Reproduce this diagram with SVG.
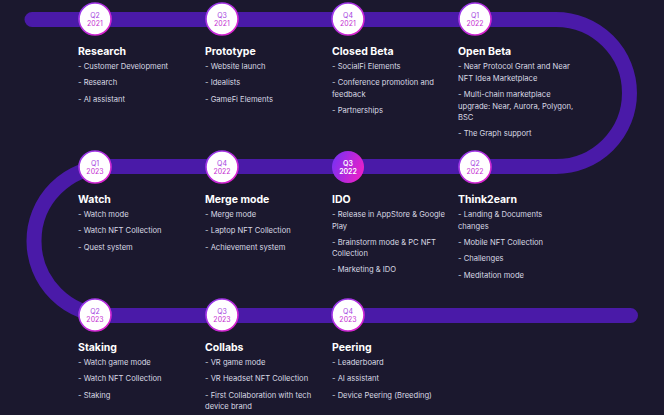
<svg xmlns="http://www.w3.org/2000/svg" width="664" height="415" viewBox="0 0 664 415">
<defs>
<linearGradient id="ring" x1="0" y1="0" x2="1" y2="1">
<stop offset="0" stop-color="#8a3cf0"/>
<stop offset="1" stop-color="#e81fc8"/>
</linearGradient>
<linearGradient id="active" x1="0" y1="0.3" x2="1" y2="0.7">
<stop offset="0" stop-color="#7b30f2"/>
<stop offset="1" stop-color="#ee1fc6"/>
</linearGradient>
<style>
.title{font-family:Inter,"Liberation Sans",sans-serif;font-weight:700;font-size:10.5px;fill:#ffffff}
.item{font-family:Inter,"Liberation Sans",sans-serif;font-size:7.6px;fill:#d9d8e4}
.dot{fill:#ffffff;stroke:url(#ring);stroke-width:1.6}
.dotA{fill:url(#active);stroke:none}
.q{font-family:Inter,"Liberation Sans",sans-serif;font-size:7px;text-anchor:middle;fill:#a33ee0}
.y{font-family:Inter,"Liberation Sans",sans-serif;font-size:7px;text-anchor:middle;fill:#c42fd2}
.qa{font-family:Inter,"Liberation Sans",sans-serif;font-size:7px;font-weight:600;text-anchor:middle;fill:#ffffff}
.track{fill:none;stroke:#4a1aa8;stroke-width:15;stroke-linecap:round}
</style>
</defs>
<rect width="664" height="415" fill="#1b182e"/>
<g id="connectors">
<path class="track" d="M32 19.5 H556 A73.5 73.5 0 0 1 556 166.5 H108.5 A74.5 74.5 0 0 0 108.5 315.5 H630.5"/>
</g>
<g id="q2-2021">
<circle class="dot" cx="95" cy="19" r="16"/>
<text class="q" x="95" y="17.5">Q2</text><text class="y" x="95" y="26">2021</text>
<text class="title" x="78" y="54.5">Research</text>
<text class="item" x="78" y="69">- Customer Development</text>
<text class="item" x="78" y="85.3">- Research</text>
<text class="item" x="78" y="101.7">- AI assistant</text>
</g>
<g id="q3-2021">
<circle class="dot" cx="222" cy="19" r="16"/>
<text class="q" x="222" y="17.5">Q3</text><text class="y" x="222" y="26">2021</text>
<text class="title" x="205" y="54.5">Prototype</text>
<text class="item" x="205" y="69">- Website launch</text>
<text class="item" x="205" y="85.3">- Idealists</text>
<text class="item" x="205" y="101.7">- GameFi Elements</text>
</g>
<g id="q4-2021">
<circle class="dot" cx="348" cy="19" r="16"/>
<text class="q" x="348" y="17.5">Q4</text><text class="y" x="348" y="26">2021</text>
<text class="title" x="332" y="54.5">Closed Beta</text>
<text class="item" x="332" y="69">- SocialFi Elements</text>
<text class="item" x="332" y="85.3">- Conference promotion and</text>
<text class="item" x="332" y="97">feedback</text>
<text class="item" x="332" y="113">- Partnerships</text>
</g>
<g id="q1-2022">
<circle class="dot" cx="475" cy="19" r="16"/>
<text class="q" x="475" y="17.5">Q1</text><text class="y" x="475" y="26">2022</text>
<text class="title" x="458" y="54.5">Open Beta</text>
<text class="item" x="458" y="69">- Near Protocol Grant and Near</text>
<text class="item" x="458" y="80.5">NFT Idea Marketplace</text>
<text class="item" x="458" y="97">- Multi-chain marketplace</text>
<text class="item" x="458" y="108.5">upgrade: Near, Aurora, Polygon,</text>
<text class="item" x="458" y="120">BSC</text>
<text class="item" x="458" y="135.5">- The Graph support</text>
</g>
<g id="q1-2023">
<circle class="dot" cx="95" cy="167" r="16"/>
<text class="q" x="95" y="165.5">Q1</text><text class="y" x="95" y="174">2023</text>
<text class="title" x="78" y="202.5">Watch</text>
<text class="item" x="78" y="217">- Watch mode</text>
<text class="item" x="78" y="233.3">- Watch NFT Collection</text>
<text class="item" x="78" y="249.7">- Quest system</text>
</g>
<g id="q4-2022">
<circle class="dot" cx="222" cy="167" r="16"/>
<text class="q" x="222" y="165.5">Q4</text><text class="y" x="222" y="174">2022</text>
<text class="title" x="205" y="202.5">Merge mode</text>
<text class="item" x="205" y="217">- Merge mode</text>
<text class="item" x="205" y="233.3">- Laptop NFT Collection</text>
<text class="item" x="205" y="249.7">- Achievement system</text>
</g>
<g id="q3-2022">
<circle class="dotA" cx="348" cy="167" r="16"/>
<text class="qa" x="348" y="165.5">Q3</text><text class="qa" x="348" y="174">2022</text>
<text class="title" x="332" y="202.5">IDO</text>
<text class="item" x="332" y="217">- Release in AppStore &amp; Google</text>
<text class="item" x="332" y="228.5">Play</text>
<text class="item" x="332" y="244.5">- Brainstorm mode &amp; PC NFT</text>
<text class="item" x="332" y="256">Collection</text>
<text class="item" x="332" y="272">- Marketing &amp; IDO</text>
</g>
<g id="q2-2022">
<circle class="dot" cx="475" cy="167" r="16"/>
<text class="q" x="475" y="165.5">Q2</text><text class="y" x="475" y="174">2022</text>
<text class="title" x="458" y="202.5">Think2earn</text>
<text class="item" x="458" y="217">- Landing &amp; Documents</text>
<text class="item" x="458" y="228.5">changes</text>
<text class="item" x="458" y="244.5">- Mobile NFT Collection</text>
<text class="item" x="458" y="261">- Challenges</text>
<text class="item" x="458" y="277.5">- Meditation mode</text>
</g>
<g id="q2-2023">
<circle class="dot" cx="95" cy="315" r="16"/>
<text class="q" x="95" y="313.5">Q2</text><text class="y" x="95" y="322">2023</text>
<text class="title" x="78" y="350.5">Staking</text>
<text class="item" x="78" y="365">- Watch game mode</text>
<text class="item" x="78" y="381.3">- Watch NFT Collection</text>
<text class="item" x="78" y="397.7">- Staking</text>
</g>
<g id="q3-2023">
<circle class="dot" cx="222" cy="315" r="16"/>
<text class="q" x="222" y="313.5">Q3</text><text class="y" x="222" y="322">2023</text>
<text class="title" x="205" y="350.5">Collabs</text>
<text class="item" x="205" y="365">- VR game mode</text>
<text class="item" x="205" y="381.3">- VR Headset NFT Collection</text>
<text class="item" x="205" y="397.7">- First Collaboration with tech</text>
<text class="item" x="205" y="409.2">device brand</text>
</g>
<g id="q4-2023">
<circle class="dot" cx="348" cy="315" r="16"/>
<text class="q" x="348" y="313.5">Q4</text><text class="y" x="348" y="322">2023</text>
<text class="title" x="332" y="350.5">Peering</text>
<text class="item" x="332" y="365">- Leaderboard</text>
<text class="item" x="332" y="381.3">- AI assistant</text>
<text class="item" x="332" y="397.7">- Device Peering (Breeding)</text>
</g>
</svg>
